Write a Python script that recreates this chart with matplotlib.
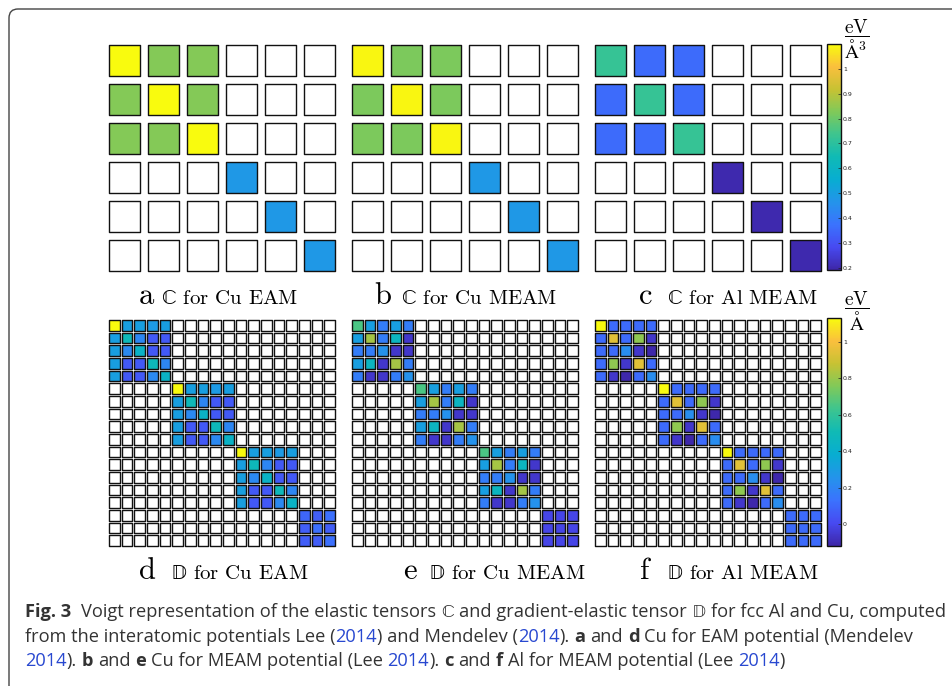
import numpy as np
import matplotlib
matplotlib.use('Agg')
import matplotlib.pyplot as plt
from matplotlib.colors import LinearSegmentedColormap, Normalize
from matplotlib.patches import Rectangle, FancyBboxPatch
from matplotlib.collections import PatchCollection
from matplotlib.transforms import IdentityTransform
from matplotlib.cm import ScalarMappable
from matplotlib.ticker import FormatStrFormatter

W, H = 953, 686

# MATLAB parula-like map
parula_pts = [(0.2422, 0.1504, 0.6603), (0.2780, 0.2900, 0.9450), (0.2300, 0.4500, 0.9950),
              (0.1400, 0.5800, 0.9200), (0.0300, 0.6800, 0.8200), (0.0600, 0.7300, 0.7100),
              (0.2400, 0.7700, 0.5600), (0.5000, 0.7900, 0.3500), (0.7800, 0.7600, 0.2000),
              (0.9800, 0.7500, 0.2400), (0.9763, 0.9831, 0.0538)]
parula = LinearSegmentedColormap.from_list('parula', parula_pts)

# elastic tensor C (eV/A^3): C11, C12, C44 per potential
c_names = ['Cu EAM', 'Cu MEAM', 'Al MEAM']
c11 = [1.10, 1.09, 0.72]
c12 = [0.83, 0.82, 0.354]
c44 = [0.48, 0.48, 0.20]
c_lim = (0.19, 1.10)
c_ticks = [0.2, 0.3, 0.4, 0.5, 0.6, 0.7, 0.8, 0.9, 1.0]

# gradient-elastic tensor D (eV/A): repeated 5x5 block + 3x3 block
d_blk_cu_eam = [[1.13, 0.305, 0.305, 0.29, 0.305],
                [0.305, 0.49, 0.205, 0.055, 0.055],
                [0.305, 0.215, 0.43, 0.055, 0.055],
                [0.305, 0.055, 0.055, 0.49, 0.205],
                [0.305, 0.055, 0.055, 0.215, 0.43]]
d_end_cu_eam = [[0.09, 0.07, 0.12],
                [0.07, 0.12, 0.07],
                [0.07, 0.07, 0.12]]
d_blk_cu_meam = [[0.655, 0.305, 0.17, 0.305, 0.17],
                 [0.305, 0.82, 0.17, 0.46, -0.06],
                 [0.17, 0.17, 0.25, -0.06, -0.06],
                 [0.305, 0.46, -0.06, 0.82, 0.17],
                 [0.17, -0.06, -0.06, 0.17, 0.25]]
d_end_cu_meam = [[-0.01, -0.01, -0.01],
                 [-0.01, -0.01, -0.01],
                 [-0.01, -0.01, -0.01]]
d_blk_al_meam = [[1.13, 0.105, 0.105, 0.105, 0.105],
                 [0.105, 0.94, 0.105, 0.78, -0.06],
                 [0.105, 0.105, 0.23, -0.06, -0.115],
                 [0.105, 0.78, -0.06, 0.94, 0.105],
                 [0.105, -0.06, -0.115, 0.105, 0.23]]
d_end_al_meam = [[0.105, 0.105, 0.105],
                 [0.105, 0.105, 0.105],
                 [0.105, 0.105, 0.105]]
d_lim = (-0.12, 1.13)
d_ticks = [0, 0.2, 0.4, 0.6, 0.8, 1.0]


def voigt_c(a, b, c):
    M = np.zeros((6, 6))
    M[:3, :3] = b
    M[[0, 1, 2], [0, 1, 2]] = a
    M[[3, 4, 5], [3, 4, 5]] = c
    return M


def voigt_d(blk, end):
    M = np.zeros((18, 18))
    for k in range(3):
        M[5*k:5*k+5, 5*k:5*k+5] = blk
    M[15:, 15:] = end
    return M


fig = plt.figure(figsize=(W/100, H/100), dpi=100)


def px_axes(x, y, w, h):
    return fig.add_axes([x/W, 1 - (y + h)/H, w/W, h/H])


def draw_tensor(ax, M, norm, gap, lw):
    n = M.shape[0]
    empty, filled, vals = [], [], []
    for i in range(n):
        for j in range(n):
            r = Rectangle((j + gap/2, i + gap/2), 1 - gap, 1 - gap)
            if M[i, j] == 0:
                empty.append(r)
            else:
                filled.append(r)
                vals.append(M[i, j])
    pe = PatchCollection(empty, facecolor='white', edgecolor='#111111', linewidth=lw, clip_on=False)
    ax.add_collection(pe)
    pc = PatchCollection(filled, cmap=parula, norm=norm, edgecolor='#111111', linewidth=lw, clip_on=False)
    pc.set_array(np.array(vals))
    ax.add_collection(pc)
    ax.set_xlim(gap/2, n - gap/2)
    ax.set_ylim(n - gap/2, gap/2)
    ax.axis('off')


def add_cbar(y, h, norm, ticks):
    cax = px_axes(827, y, 14, h)
    cb = fig.colorbar(ScalarMappable(norm=norm, cmap=parula), cax=cax)
    cb.set_ticks(ticks)
    cax.yaxis.set_major_formatter(FormatStrFormatter('%g'))
    cax.tick_params(labelsize=4.5, length=2, width=0.5, direction='in', pad=1.5, colors='#222222')
    cb.outline.set_linewidth(1.0)
    cb.outline.set_edgecolor('#111111')
    return cb


c_norm = Normalize(*c_lim)
d_norm = Normalize(*d_lim)
xs = [109, 352, 595]

c_mats = [voigt_c(c11[k], c12[k], c44[k]) for k in range(3)]
d_mats = [voigt_d(d_blk_cu_eam, d_end_cu_eam), voigt_d(d_blk_cu_meam, d_end_cu_meam),
          voigt_d(d_blk_al_meam, d_end_al_meam)]

for k in range(3):
    ax = px_axes(xs[k], 45, 226, 226)
    draw_tensor(ax, c_mats[k], c_norm, 0.195, 1.0)
    ax = px_axes(xs[k], 320, 226, 226)
    draw_tensor(ax, d_mats[k], d_norm, 0.17, 1.0)

add_cbar(44, 226, c_norm, c_ticks)
add_cbar(318, 228, d_norm, d_ticks)

fig.text(857/W, 1 - 39/H, r'$\dfrac{\mathrm{eV}}{\mathrm{\AA}^3}$', fontsize=14, ha='center', va='center',
         math_fontfamily='cm')
fig.text(857/W, 1 - 311/H, r'$\dfrac{\mathrm{eV}}{\mathrm{\AA}}$', fontsize=14, ha='center', va='center',
         math_fontfamily='cm')

# panel labels
BB_C = r'$\mathrm{\mathbb{C}}$'
BB_D = r'$\mathrm{\mathbb{D}}$'
letters_top = ['a', 'b', 'c']
letters_bot = ['d', 'e', 'f']
lx_top = [146, 383, 646]
tx_top = [161, 401, 667]
lx_bot = [147, 410, 645]
tx_bot = [171, 429, 667]
for k in range(3):
    fig.text(lx_top[k]/W, 1 - 304/H, letters_top[k], fontsize=22, family='cmr10', ha='center', va='baseline')
    fig.text(tx_top[k]/W, 1 - 304/H, BB_C + ' for ' + c_names[k], fontsize=15, family='cmr10',
             math_fontfamily='stix', ha='left', va='baseline')
    fig.text(lx_bot[k]/W, 1 - 579/H, letters_bot[k], fontsize=22, family='cmr10', ha='center', va='baseline')
    fig.text(tx_bot[k]/W, 1 - 579/H, BB_D + ' for ' + c_names[k], fontsize=15, family='cmr10',
             math_fontfamily='stix', ha='left', va='baseline')

# caption
cap_font = ['Open Sans', 'DejaVu Sans']
cap_col = '#333333'
link_col = '#2848d0'
SP = ' '
line1 = [('Fig. 3', 'b'), (SP, ''), (SP, ''), ('Voigt representation of the elastic tensors', 'n'), (SP, ''),
         (BB_C, 'n'), (SP, ''), ('and gradient-elastic tensor', 'n'), (SP, ''),
         (BB_D, 'n'), (SP, ''), ('for fcc Al and Cu, computed', 'n')]
line2 = [('from the interatomic potentials Lee (', 'n'), ('2014', 'l'), (') and Mendelev (', 'n'),
         ('2014', 'l'), (').', 'n'), (SP, ''), ('a', 'b'), (SP, ''), ('and', 'n'), (SP, ''), ('d', 'b'),
         (SP, ''), ('Cu for EAM potential (Mendelev', 'n')]
line3 = [('2014', 'l'), (').', 'n'), (SP, ''), ('b', 'b'), (SP, ''), ('and', 'n'), (SP, ''), ('e', 'b'),
         (SP, ''), ('Cu for MEAM potential (Lee', 'n'), (SP, ''), ('2014', 'l'), (').', 'n'), (SP, ''),
         ('c', 'b'), (SP, ''), ('and', 'n'), (SP, ''), ('f', 'b'), (SP, ''), ('Al for MEAM potential (Lee', 'n'),
         (SP, ''), ('2014', 'l'), (')', 'n')]

renderer = fig.canvas.get_renderer()


def put_line(x, y, pieces, size, draw=True):
    a = fig.text(0, 0, 'a a', fontsize=size, family=cap_font)
    b = fig.text(0, 0, 'aa', fontsize=size, family=cap_font)
    sp = a.get_window_extent(renderer).width - b.get_window_extent(renderer).width
    a.remove()
    b.remove()
    x0 = x
    for txt, st in pieces:
        if txt == SP:
            x += sp
            continue
        t = fig.text(x/W, 1 - y/H, txt, fontsize=size, family=cap_font, math_fontfamily='stix',
                     fontweight='bold' if st == 'b' else 'normal',
                     color=link_col if st == 'l' else cap_col, va='baseline', ha='left')
        x += t.get_window_extent(renderer).width
        if not draw:
            t.remove()
    return x - x0


w10 = put_line(0, 0, line1, 10, draw=False)
cap_size = 10 * 925 / w10
put_line(25, 617, line1, cap_size)
put_line(25, 642, line2, cap_size)
put_line(25, 666, line3, cap_size)

# rounded frame
frame = FancyBboxPatch((9, -40), 1000, H - 9 + 40, boxstyle='round,pad=0,rounding_size=9',
                       transform=IdentityTransform(), fill=False, edgecolor='#444444', linewidth=1.0)
fig.add_artist(frame)

fig.savefig('out.png', dpi=100)
